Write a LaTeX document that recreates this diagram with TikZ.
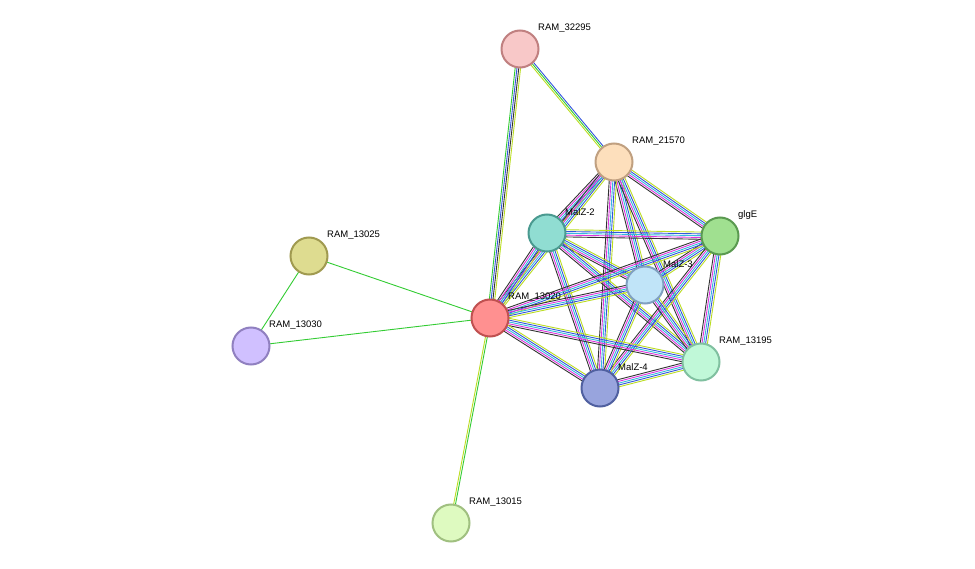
\documentclass[tikz,border=0pt]{standalone}
\usepackage{fontspec}
\setmainfont{Liberation Sans}
\usetikzlibrary{calc}
\definecolor{sg}{HTML}{33CC33}
\definecolor{sb}{HTML}{3355DD}
\definecolor{sy}{HTML}{BBDD22}
\definecolor{sm}{HTML}{DD33DD}
\definecolor{sc}{HTML}{33BBDD}
\definecolor{sk}{HTML}{333333}
\definecolor{sl}{HTML}{AAAAEE}
\newcommand\sedge[4]{%
  \foreach \c [count=\i] in {#4} {%
    \pgfmathsetmacro\off{(\i-(#3+1)/2)*1.8}%
    \draw[\c, line width=0.9pt] ($(#1)!\off pt!90:(#2)$) -- ($(#2)!\off pt!-90:(#1)$);
  }}
\tikzset{
  prot/.style={circle, minimum size=37pt, inner sep=0pt, line width=2pt},
  lab/.style={anchor=west, font=\fontsize{9.5}{11}\selectfont, inner sep=0pt}
}
\newcommand\prot[6]{%
  \definecolor{f#1}{HTML}{#4}\definecolor{d#1}{HTML}{#5}%
  \node[prot, fill=f#1, draw=d#1] (#1) at (#2,#3) {};
  \node[lab] (l#1) at (#2+18,#3-21) {#6};}
\begin{document}
\begin{tikzpicture}[x=1pt,y=-1pt]
\useasboundingbox (0,0) rectangle (975,569);
\fill[white] (0,0) rectangle (975,569);
\coordinate (a) at (520,49);
\coordinate (b) at (614,162);
\coordinate (c) at (547,233);
\coordinate (d) at (720,236);
\coordinate (e) at (645,285);
\coordinate (f) at (490,318);
\coordinate (g) at (309,256);
\coordinate (h) at (251,346);
\coordinate (i) at (701,362);
\coordinate (j) at (600,388);
\coordinate (k) at (451,523);
% edges
\sedge{a}{f}{4}{sg,sb,sk,sy}
\sedge{a}{b}{3}{sy,sg,sb}
\sedge{g}{f}{1}{sg}
\sedge{h}{f}{1}{sg}
\sedge{g}{h}{1}{sg}
\sedge{k}{f}{2}{sg,sy}
\foreach \p/\q in {b/c,b/d,b/e,b/f,b/i,b/j,c/d,c/e,c/f,c/i,c/j,d/e,d/f,d/i,d/j,e/f,e/i,e/j,f/i,f/j,i/j}{
  \sedge{\p}{\q}{5}{sk,sm,sc,sb,sy}
}
% nodes
\prot{a}{520}{49}{F8C8C8}{C08080}{RAM\_32295}
\prot{b}{614}{162}{FDDFBC}{C0A080}{RAM\_21570}
\prot{c}{547}{233}{90DDD2}{4A9A90}{MalZ-2}
\prot{d}{720}{236}{A0E090}{5A9A50}{glgE}
\prot{e}{645}{285}{C0E4F8}{80A0C0}{MalZ-3}
\prot{f}{490}{318}{FF9090}{C05050}{RAM\_13020}
\prot{g}{309}{256}{DEDC90}{A09A50}{RAM\_13025}
\prot{h}{251}{346}{D0C0FF}{9080C0}{RAM\_13030}
\prot{i}{701}{362}{C0F8D8}{80C0A0}{RAM\_13195}
\prot{j}{600}{388}{98A4DD}{5060A0}{MalZ-4}
\prot{k}{451}{523}{DEFAC0}{A0C080}{RAM\_13015}
\end{tikzpicture}
\end{document}
